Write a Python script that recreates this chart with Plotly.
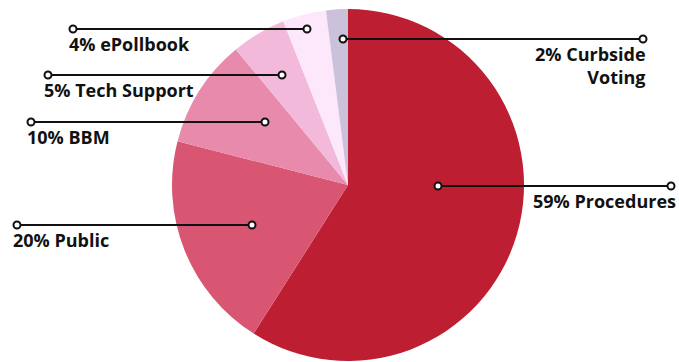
import plotly.graph_objects as go

# Share of issues by category
categories = ["Procedures", "Public", "BBM", "Tech Support", "ePollbook", "Curbside Voting"]
shares = [59, 20, 10, 5, 4, 2]
label_text = ["59% Procedures", "20% Public", "10% BBM", "5% Tech Support",
              "4% ePollbook", "2% Curbside<br>Voting"]
colors = ["#BE1E31", "#D95672", "#E88AAB", "#F2B9DA", "#FDE7FA", "#CBC1DA"]

W, H = 679, 362

fig = go.Figure()

fig.add_trace(go.Pie(
    labels=categories,
    values=shares,
    sort=False,
    direction="clockwise",
    rotation=0,
    marker=dict(colors=colors, line=dict(width=0)),
    textinfo="none",
    hoverinfo="label+percent",
    showlegend=False,
    domain=dict(x=[172 / W, 524 / W], y=[1 / H, 353 / H]),
))

# Leader lines: inner point, outer point, text side, text x
leaders = {
    "Procedures":      ((438, 186), (671, 186), "right", 678),
    "Public":          ((252, 225), (17, 225), "left", 11),
    "BBM":             ((265, 122), (31, 122), "left", 25),
    "Tech Support":    ((282, 75), (48, 75), "left", 42),
    "ePollbook":       ((307, 29), (73, 29), "left", 67),
    "Curbside Voting": ((343, 39), (643, 39), "right", 648),
}

shapes = []
R = 3.5
for cat, txt in zip(categories, label_text):
    (x0, y0), (x1, y1), side, tx = leaders[cat]
    shapes.append(dict(type="line", xref="x", yref="y", x0=x0, y0=y0, x1=x1, y1=y1,
                       line=dict(color="#111111", width=2), layer="above"))
    for cx, cy in ((x0, y0), (x1, y1)):
        shapes.append(dict(type="circle", xref="x", yref="y",
                           x0=cx - R, x1=cx + R, y0=cy - R, y1=cy + R,
                           fillcolor="white", line=dict(color="#111111", width=2),
                           layer="above"))
    fig.add_annotation(
        x=tx, y=y0 + 1, xref="x", yref="y",
        text=txt, showarrow=False,
        xanchor=side, yanchor="top", align=side,
        font=dict(family="Open Sans", size=18, color="#111111", weight=700),
    )

fig.update_layout(
    width=W, height=H,
    margin=dict(l=0, r=0, t=0, b=0),
    paper_bgcolor="white", plot_bgcolor="rgba(0,0,0,0)",
    xaxis=dict(range=[0, W], visible=False, fixedrange=True),
    yaxis=dict(range=[H, 0], visible=False, fixedrange=True),
    shapes=shapes,
)

fig.write_html("out.html")
